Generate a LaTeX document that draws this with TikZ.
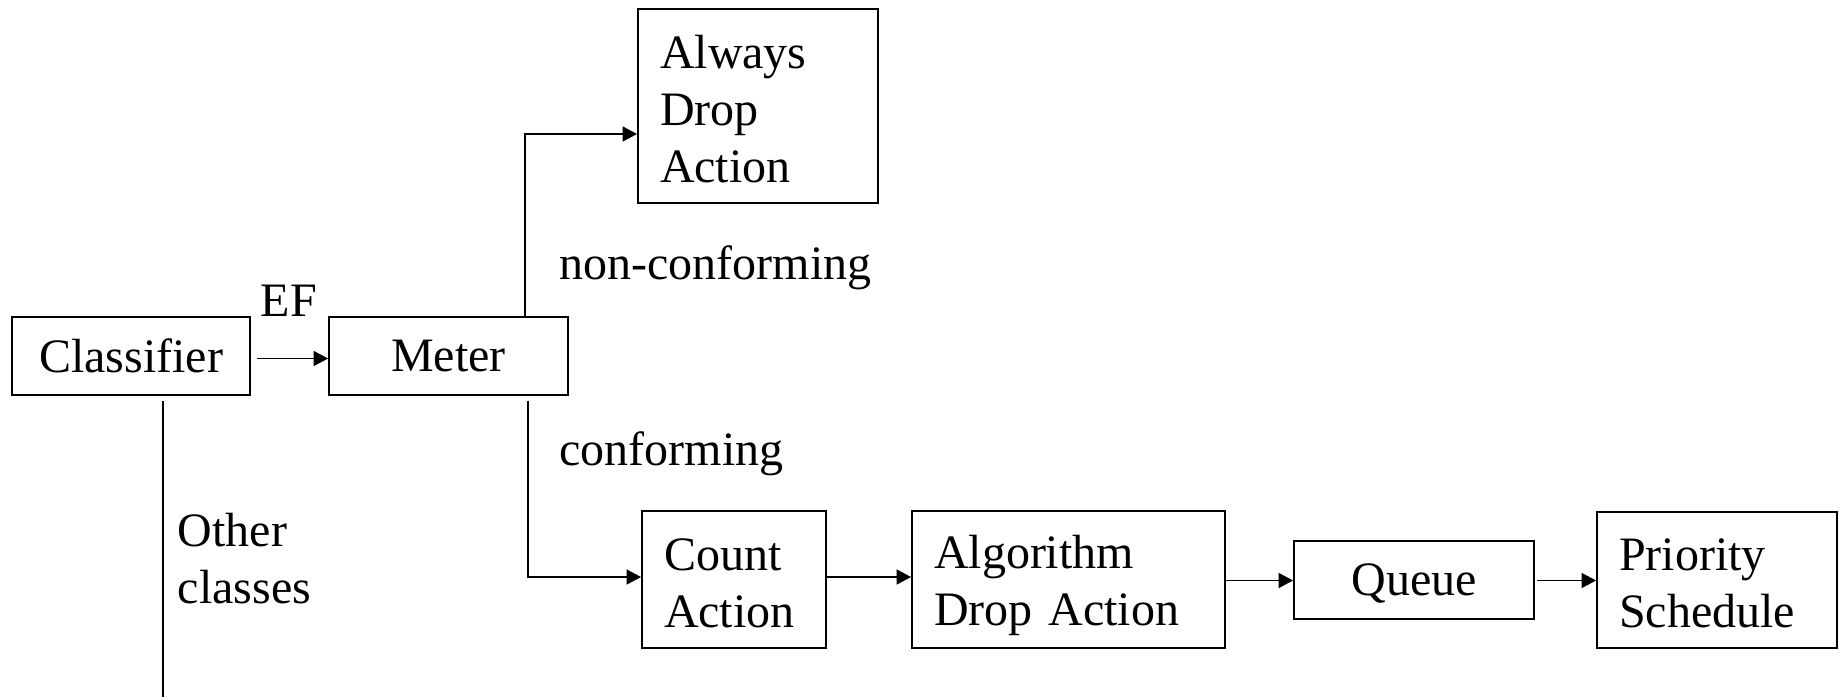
\documentclass[tikz,border=0pt]{standalone}
\usepackage{fontspec}
\setmainfont{Liberation Serif}
\usetikzlibrary{arrows.meta}
\tikzset{
  x=0.5pt, y=-0.5pt,
  txt/.style={font=\fontsize{24}{28.5}\selectfont, inner sep=0pt},
  box/.style={draw, line width=0.9pt, font=\fontsize{24}{28.5}\selectfont, inner sep=0pt, align=center},
  mbox/.style={draw, line width=0.9pt, font=\fontsize{24}{28.5}\selectfont, inner xsep=11pt, inner ysep=0pt, align=left},
  conn/.style={line width=0.9pt},
  arr/.style={line width=0.9pt, -{Triangle[length=7.3pt,width=7.5pt]}}
}
\begin{document}
\begin{tikzpicture}
\useasboundingbox (0,0) rectangle (1843,697);
% boxes
\node[box, minimum width=119pt, minimum height=39pt] (cls) at (131,356) {Classifier};
\node[box, minimum width=119.5pt, minimum height=39pt] (meter) at (448.5,356) {Meter};
\node[mbox, minimum width=120pt, minimum height=97pt, text width=98pt] (always) at (758,106) {\rule{0pt}{20pt}Always\\Drop\\Action};
\node[mbox, minimum width=92pt, minimum height=68.5pt, text width=70pt] (count) at (734,579.5) {\rule{0pt}{20pt}Count\\Action};
\node[mbox, minimum width=156.5pt, minimum height=68.5pt, text width=134.5pt] (alg) at (1068.5,579.5) {\rule{0pt}{22.5pt}Algorithm\\Drop Action};
\node[box, minimum width=120pt, minimum height=39pt] (queue) at (1414,580) {\rule{0pt}{19.5pt}Queue};
\node[mbox, minimum width=120pt, minimum height=68pt, text width=98pt] (prio) at (1717,580) {\rule{0pt}{19.5pt}Priority\\Schedule};
% labels
\node[txt, anchor=base] (ef) at (289,316) {EF};
\node[txt, anchor=base west] (nc) at (559,279.5) {non-conforming};
\node[txt, anchor=base west] (cf) at (559,465.5) {conforming};
\node[txt, anchor=base west, align=left] (oc) at (177.5,603) {Other\\classes};
% coordinates
\coordinate (up) at (525,134);
\coordinate (dn) at (528,577);
\coordinate (oth) at (163,697);
% connectors
\draw[arr, shorten <=3pt] (cls.east |- 0,358.5) -- (meter.west |- 0,358.5);
\draw[arr] (meter.north -| up) |- (always.west |- up);
\draw[arr, shorten <=2.5pt] (meter.south -| dn) |- (count.west |- dn);
\draw[arr] (count.east |- 0,577) -- (alg.west |- 0,577);
\draw[arr] (alg.east |- 0,580.5) -- (queue.west |- 0,580.5);
\draw[arr, shorten <=1pt] (queue.east |- 0,580.5) -- (prio.west |- 0,580.5);
\draw[conn, shorten <=2.5pt] (cls.south -| oth) -- (oth);
\end{tikzpicture}
\end{document}
